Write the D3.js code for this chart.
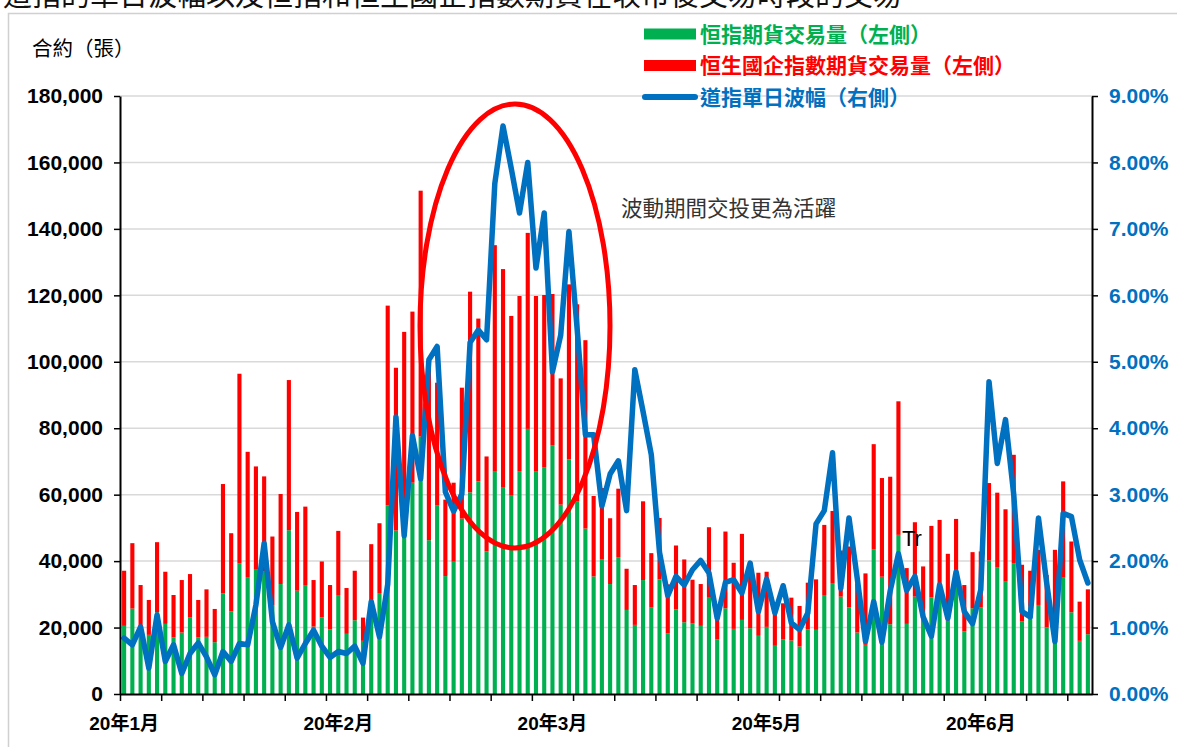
<!DOCTYPE html>
<html><head><meta charset="utf-8">
<script src="https://cdn.jsdelivr.net/npm/d3@7"></script>
<style>
body{margin:0;background:#fff;}
svg{display:block;font-family:"Liberation Sans",Arial,"Noto Sans CJK TC",sans-serif;}
</style></head><body>
<svg id="chart" width="1177" height="747"></svg>
<script>
// ---------- data ----------
const tickLabels = ["20年1月","20年2月","20年3月","20年5月","20年6月"];
const tickLabelIndex = [0,26,52,78,104];
// 恒指期貨交易量 (contracts)
const hsiVol = [20500,25700,20300,17800,24600,21100,17000,18500,23000,17000,17200,15600,30300,24900,39400,35200,37400,37000,26800,33100,
49300,31100,32800,20300,23100,19500,29800,18100,22200,16000,24400,30400,56800,49200,48500,63600,77500,46300,56700,35500,
39800,52800,60700,64000,42900,66900,62300,59900,67100,79800,67100,68300,74900,57000,70600,57900,49800,35400,40600,33100,
41200,25300,20800,34300,26000,34500,18200,25500,21600,21200,20500,29200,16500,25800,19600,22300,19800,17500,20200,14500,
16500,16100,14300,19500,19300,29800,33400,29300,26100,18500,14800,43600,35300,21000,47900,21100,29300,23300,29100,31800,
22100,34300,18800,25800,26000,40200,38200,33800,39400,21800,26300,26800,20100,15500,35000,24600,16000,18000];
// 恒生國企指數期貨交易量 (contracts, stacked on top)
const hsceiVol = [16600,19700,12500,10500,21100,15700,12800,15800,13100,11300,14300,10000,32900,23500,57000,37700,31100,28500,20600,27100,
45200,23700,23600,14000,16800,13300,19300,13800,14900,7000,20700,21000,60100,49000,60500,51500,74000,53700,37000,23000,
23800,39400,60400,49000,28600,68200,65600,53900,52700,59000,52700,51800,45500,38000,52700,59400,56700,24200,21400,19800,
20600,12400,12000,23700,16400,18500,14800,19200,18900,13200,12600,21000,9800,23100,19900,25900,20000,19000,16600,12300,
10800,12900,12200,14000,15200,21100,21700,13900,18300,14800,21500,31600,29700,44400,40200,16800,22400,15100,21500,20600,
20100,18400,14000,16900,16900,23300,22400,21800,32600,17100,10800,16600,15700,27900,29000,21300,11800,13500];
// 道指單日波幅 (%)
const djiRange = [0.84,0.74,1.01,0.39,1.19,0.49,0.74,0.31,0.61,0.77,0.56,0.29,0.64,0.49,0.76,0.74,1.34,2.27,1.09,0.70,
1.04,0.54,0.76,0.96,0.72,0.55,0.64,0.61,0.72,0.46,1.39,0.86,1.65,4.17,2.38,3.89,3.24,5.03,5.23,3.04,
2.75,3.01,5.29,5.48,5.33,7.68,8.55,7.91,7.24,8.00,6.41,7.24,4.85,5.40,6.96,5.49,3.90,3.90,2.83,3.31,
3.51,2.76,4.88,4.25,3.60,2.13,1.48,1.77,1.64,1.87,2.01,1.82,1.14,1.68,1.72,1.52,1.97,1.24,1.73,1.22,
1.63,1.07,0.97,1.22,2.56,2.76,3.63,1.59,2.65,1.74,0.79,1.39,0.78,1.55,2.11,1.56,1.77,1.16,0.87,1.64,
1.14,1.84,1.24,1.06,1.57,4.70,3.47,4.13,3.00,1.24,1.16,2.65,1.67,0.79,2.72,2.67,2.02,1.67];
const leftTicks = [0,20000,40000,60000,80000,100000,120000,140000,160000,180000];
const rightTicks = [0,1,2,3,4,5,6,7,8,9];
const legendItems = [
  {label:"恒指期貨交易量（左側）", color:"#00B050", type:"bar"},
  {label:"恒生國企指數期貨交易量（左側）", color:"#FF0000", type:"bar"},
  {label:"道指單日波幅（右側）", color:"#0070C0", type:"line"}
];
const titleText = "道指的單日波幅以及恒指和恒生國企指數期貨在收市後交易時段的交易";
const annotationText = "波動期間交投更為活躍";

// ---------- layout ----------
const svg = d3.select("#chart");
const X0 = 120, X1 = 1092, Y0 = 96, Y1 = 694;
const n = hsiVol.length;
const GREEN = "#00B050", RED = "#FF0000", BLUE = "#0070C0";
const CJK = '"Noto Sans CJK TC","Noto Sans CJK SC",sans-serif';

const x = d3.scaleBand().domain(d3.range(n)).range([X0, X1]).paddingInner(0.5).paddingOuter(0.25);
const xEdge = d3.scaleLinear().domain([0, n]).range([X0, X1]);
const yL = d3.scaleLinear().domain([0, 180000]).range([Y1, Y0]);
const yR = d3.scaleLinear().domain([0, 9]).range([Y1, Y0]);

// title (cut off at top, as in the source image)
svg.append("text").attr("x", 3).attr("y", 6).attr("font-family", CJK)
  .attr("font-size", 29).attr("fill", "#111").text(titleText);

// chart frame
svg.append("rect").attr("x", 8.5).attr("y", 13.5).attr("width", 1300).attr("height", 1000)
  .attr("fill", "none").attr("stroke", "#d0d0d0").attr("stroke-width", 1.5);

// gridlines
svg.append("g").selectAll("line").data(leftTicks.slice(1)).join("line")
  .attr("x1", X0).attr("x2", X1).attr("y1", d => yL(d)).attr("y2", d => yL(d))
  .attr("stroke", "#d9d9d9").attr("stroke-width", 1.5);

// stacked bars
const bars = svg.append("g");
bars.selectAll("rect.g").data(hsiVol).join("rect").attr("class","g")
  .attr("x", (d,i) => x(i)).attr("width", x.bandwidth())
  .attr("y", d => yL(d)).attr("height", d => yL(0) - yL(d)).attr("fill", GREEN);
bars.selectAll("rect.r").data(hsceiVol).join("rect").attr("class","r")
  .attr("x", (d,i) => x(i)).attr("width", x.bandwidth())
  .attr("y", (d,i) => yL(hsiVol[i] + d)).attr("height", (d,i) => yL(hsiVol[i]) - yL(hsiVol[i] + d))
  .attr("fill", RED);

// line
const line = d3.line().x((d,i) => x(i) + x.bandwidth()/2).y(d => yR(d));
svg.append("path").datum(djiRange).attr("d", line).attr("fill", "none")
  .attr("stroke", BLUE).attr("stroke-width", 5.5).attr("stroke-linejoin", "round").attr("stroke-linecap","round");

// axes
const axL = svg.append("g").attr("transform", `translate(${X0},0)`)
  .call(d3.axisLeft(yL).tickValues(leftTicks).tickFormat(d3.format(",")).tickSize(6).tickSizeOuter(0));
axL.select(".domain").attr("stroke", "#000").attr("stroke-width", 2);
axL.selectAll(".tick line").attr("stroke", "#000").attr("stroke-width", 1.5);
axL.selectAll(".tick text").attr("font-family", '"Liberation Sans",Arial,sans-serif')
  .attr("font-size", 21).attr("font-weight", "bold").attr("fill", "#000").attr("x", -17);

const axR = svg.append("g").attr("transform", `translate(${X1},0)`)
  .call(d3.axisRight(yR).tickValues(rightTicks).tickFormat(d => d.toFixed(2) + "%").tickSize(6).tickSizeOuter(0));
axR.select(".domain").attr("stroke", "#000").attr("stroke-width", 2);
axR.selectAll(".tick line").attr("stroke", "#000").attr("stroke-width", 1.5);
axR.selectAll(".tick text").attr("font-family", '"Liberation Sans",Arial,sans-serif')
  .attr("font-size", 21).attr("font-weight", "bold").attr("fill", BLUE).attr("x", 17);

const axB = svg.append("g").attr("transform", `translate(0,${Y1})`)
  .call(d3.axisBottom(xEdge).tickValues(d3.range(0, n + 1, 5)).tickFormat("").tickSize(7).tickSizeOuter(0));
axB.select(".domain").attr("stroke", "#000").attr("stroke-width", 2);
axB.selectAll(".tick line").attr("stroke", "#000").attr("stroke-width", 1.5);

const axBL = svg.append("g").attr("transform", `translate(0,${Y1})`)
  .call(d3.axisBottom(x).tickValues(tickLabelIndex).tickFormat((d,k) => tickLabels[k]).tickSize(0));
axBL.select(".domain").remove();
axBL.selectAll(".tick text").attr("font-family", '"Liberation Sans",Arial,"Noto Sans CJK TC",sans-serif')
  .attr("font-size", 19).attr("font-weight", "bold").attr("fill", "#000").attr("dy", "1.75em");

// y-axis title
svg.append("text").attr("x", 32).attr("y", 56).attr("font-family", CJK)
  .attr("font-size", 20.5).attr("fill", "#000").text("合約（張）");

// ellipse annotation
svg.append("ellipse").attr("cx", 515).attr("cy", 326).attr("rx", 95).attr("ry", 222)
  .attr("fill", "none").attr("stroke", RED).attr("stroke-width", 5);
svg.append("text").attr("x", 621).attr("y", 216).attr("font-family", CJK)
  .attr("font-size", 21.5).attr("fill", "#333").text(annotationText);
svg.append("text").attr("x", 902).attr("y", 546).attr("font-family", '"Liberation Sans",Arial,sans-serif')
  .attr("font-size", 22).attr("fill", "#000").text("Tr");

// legend
const lg = svg.append("g");
legendItems.forEach((it, k) => {
  const cy = 34 + k * 31.5;
  if (it.type === "bar") {
    lg.append("rect").attr("x", 644).attr("y", cy - 5.5).attr("width", 52).attr("height", 11).attr("fill", it.color);
  } else {
    lg.append("line").attr("x1", 645).attr("x2", 695).attr("y1", cy).attr("y2", cy)
      .attr("stroke", it.color).attr("stroke-width", 6).attr("stroke-linecap", "round");
  }
  lg.append("text").attr("x", 700).attr("y", cy).attr("dy", "0.36em").attr("font-family", CJK)
    .attr("font-size", 21).attr("font-weight", "bold").attr("fill", it.color).text(it.label);
});
</script></body></html>
